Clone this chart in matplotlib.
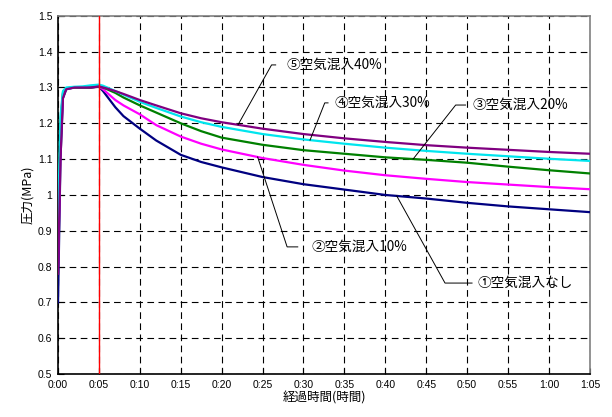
import numpy as np
import matplotlib
matplotlib.use("Agg")
import matplotlib.pyplot as plt

plt.rcParams['font.family'] = ['Noto Sans CJK JP', 'DejaVu Sans']

# elapsed time in minutes
t = [0, 0.3, 0.6, 1, 2, 3, 4, 5, 5.5, 6, 7, 8, 10, 12, 15, 17.5, 20, 25, 30, 35, 40, 45, 50, 55, 60, 65]

p_none = [0.70, 1.10, 1.27, 1.295, 1.30, 1.30, 1.30, 1.302, 1.29, 1.275, 1.245, 1.22, 1.185, 1.152,
          1.112, 1.092, 1.077, 1.05, 1.03, 1.015, 1.0, 0.99, 0.978, 0.968, 0.96, 0.952]
p_10 = [0.80, 1.15, 1.28, 1.297, 1.30, 1.30, 1.30, 1.303, 1.295, 1.285, 1.265, 1.25, 1.225, 1.195,
        1.163, 1.143, 1.127, 1.103, 1.084, 1.068, 1.055, 1.045, 1.036, 1.029, 1.022, 1.016]
p_20 = [0.90, 1.20, 1.285, 1.298, 1.30, 1.30, 1.30, 1.303, 1.30, 1.295, 1.285, 1.272, 1.25, 1.23,
        1.20, 1.178, 1.16, 1.14, 1.125, 1.115, 1.105, 1.098, 1.09, 1.079, 1.069, 1.06]
p_30 = [0.92, 1.22, 1.29, 1.30, 1.302, 1.303, 1.306, 1.308, 1.305, 1.30, 1.29, 1.28, 1.26, 1.243,
        1.219, 1.203, 1.19, 1.17, 1.155, 1.143, 1.132, 1.123, 1.115, 1.108, 1.101, 1.095]
p_40 = [0.78, 1.10, 1.27, 1.295, 1.30, 1.30, 1.30, 1.303, 1.30, 1.297, 1.29, 1.282, 1.265, 1.25,
        1.228, 1.214, 1.203, 1.185, 1.17, 1.158, 1.148, 1.139, 1.132, 1.126, 1.12, 1.115]

series = [("①空気混入なし", p_none, "#000080"),
          ("②空気混入10%", p_10, "#ff00ff"),
          ("③空気混入20%", p_20, "#008000"),
          ("④空気混入30%", p_30, "#00e5ee"),
          ("⑤空気混入40%", p_40, "#800080")]

xticks = list(range(0, 66, 5))
xlabels = [f"{m // 60}:{m % 60:02d}" for m in xticks]
yticks = [0.5, 0.6, 0.7, 0.8, 0.9, 1.0, 1.1, 1.2, 1.3, 1.4, 1.5]
ylabels = ["0.5", "0.6", "0.7", "0.8", "0.9", "1", "1.1", "1.2", "1.3", "1.4", "1.5"]

fig = plt.figure(figsize=(6.12, 4.17), dpi=100)
ax = fig.add_axes([0.0948, 0.103, 0.869, 0.859])

for name, vals, col in series:
    ax.plot(t, vals, color=col, lw=1.6, zorder=3)

ax.axvline(5, color="red", lw=1.0, zorder=4)

ax.set_xlim(0, 65)
ax.set_ylim(0.5, 1.5)
ax.set_xticks(xticks)
ax.set_xticklabels(xlabels, family="Liberation Sans", fontsize=7.5)
ax.set_yticks(yticks)
ax.set_yticklabels(ylabels, family="Liberation Sans", fontsize=7.5)
ax.tick_params(direction="in", length=4, width=0.8, pad=4)
ax.grid(True, color="black", lw=0.8, linestyle=(0, (6, 4)), zorder=1)
for s in ["left", "bottom"]:
    ax.spines[s].set_color("black")
    ax.spines[s].set_linewidth(1.2)
for s in ["top", "right"]:
    ax.spines[s].set_color("#808080")
    ax.spines[s].set_linewidth(1.2)

ax.set_xlabel("経過時間(時間)", fontsize=9, labelpad=1)
ax.set_ylabel("圧力(MPa)", fontsize=9, labelpad=3)

# leader lines: (series index, curve time, knee time, knee value, elbow time, text time)
leaders = [(4, 22.0, 26.1, 1.363, 26.6, 27.9),
           (3, 30.8, 32.6, 1.257, 33.0, 33.8),
           (2, 43.4, 48.6, 1.251, 49.8, 50.7),
           (1, 24.4, 28.0, 0.855, 29.3, 31.0),
           (0, 41.4, 47.3, 0.754, 50.6, 51.3)]
for i, tc, tk, vk, te, tt in leaders:
    name, vals, col = series[i]
    vc = np.interp(tc, t, vals)
    ax.plot([tc, tk, te], [vc, vk, vk], color="black", lw=0.7, zorder=5)
    ax.text(tt, vk, name, fontsize=9.8, ha="left", va="center", zorder=6)

fig.savefig("out.png", dpi=100)
